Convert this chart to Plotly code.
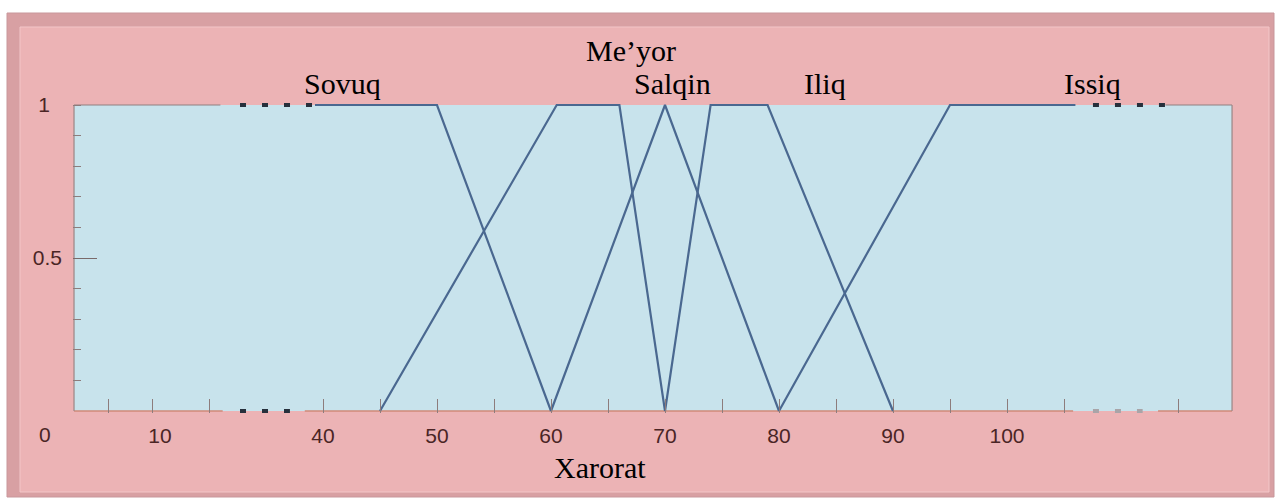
import plotly.graph_objects as go

# Membership functions of the linguistic variable "Xarorat"
sovuq_x = [39.3, 50, 60]
sovuq_y = [1, 1, 0]
meyor_x = [45, 60.5, 66, 70]
meyor_y = [0, 1, 1, 0]
salqin_x = [60, 70, 80]
salqin_y = [0, 1, 0]
iliq_x = [70, 74, 79, 90]
iliq_y = [0, 1, 1, 0]
issiq_x = [80, 95, 106]
issiq_y = [0, 1, 1]

# Term labels (centre on the x scale, row 1 = one line higher)
term_names = ["Sovuq", "Me’yor", "Salqin", "Iliq", "Issiq"]
term_label_x = [41.7, 67.0, 70.7, 84.0, 107.5]
term_label_row = [0, 1, 0, 0, 0]

# Axis ticks and labels
x_tick_vals = [21.2, 25, 30, 40, 45, 50, 55, 60, 65, 70, 75, 80, 85, 90, 95, 100, 105, 115]
x_label_vals = [25.7, 40, 50, 60, 70, 80, 90, 100]
x_label_text = ["10", "40", "50", "60", "70", "80", "90", "100"]
y_minor_vals = [0.1, 0.2, 0.3, 0.4, 0.6, 0.7, 0.8, 0.9]

# Broken-axis stretches shown as dots
break_left = (32.72, 39.2)
break_left_low = (32.72, 37.1)
break_right = (107.54, 113.9)
break_right_low = (107.54, 111.9)

# Axis frame extent in data units
X_LO, X_HI = 18.16, 119.74

# ---- page geometry ----
W, H = 1276, 501
L, R, T, B = 73, 43, 103, 88
PXU = 11.4                      # px per x unit
x_lo = 40 - (323 - L) / PXU
x_hi = x_lo + (W - L - R) / PXU
y_pad = 2 / 306
pw, ph = W - L - R, H - T - B


def px(xp):
    return (xp - L) / pw


def py(yp):
    return (H - B - yp) / ph


PINK = "#ecb3b5"
PINK_DARK = "#d8a0a3"
BLUE = "#c8e3ec"
LINE = "#4a6890"
TICK = "#8d7c7c"
LABEL = "#4a2525"
SERIF = "Liberation Serif, Times New Roman, serif"
SANS = "Liberation Sans, Arial, sans-serif"
TICK_FONT = dict(family=SANS, size=21, color=LABEL)

fig = go.Figure()

series = [(sovuq_x, sovuq_y), (meyor_x, meyor_y), (salqin_x, salqin_y),
          (iliq_x, iliq_y), (issiq_x, issiq_y)]
for (xs, ys), name in zip(series, term_names):
    fig.add_trace(go.Scatter(x=xs, y=ys, mode="lines", name=name,
                             line=dict(color=LINE, width=2.2), showlegend=False))

# dotted axis breaks
for (a, b), yv, col in [(break_left, 1, "#26303c"), (break_left_low, 0, "#26303c"),
                        (break_right, 1, "#26303c"), (break_right_low, 0, "#a9a4a8")]:
    fig.add_trace(go.Scatter(x=[a, b], y=[yv, yv], mode="lines", showlegend=False,
                             line=dict(color=col, width=4, dash="6px,16px")))

# helper traces so the overlay axes are drawn
fig.add_trace(go.Scatter(x=[None], y=[None], xaxis="x2", yaxis="y", showlegend=False))
fig.add_trace(go.Scatter(x=[None], y=[None], xaxis="x", yaxis="y2", showlegend=False))

shapes = [
    # outer frame band and inner panel
    dict(type="rect", xref="paper", yref="paper", x0=px(7), x1=px(1274), y0=py(497), y1=py(13),
         fillcolor=PINK_DARK, line=dict(color="#c8979b", width=1), layer="below"),
    dict(type="rect", xref="paper", yref="paper", x0=px(20), x1=px(1269), y0=py(492), y1=py(27),
         fillcolor=PINK, line=dict(color="#f3c6c8", width=1), layer="below"),
    # plotting area
    dict(type="rect", xref="x", yref="y", x0=X_LO, x1=X_HI, y0=0, y1=1,
         fillcolor=BLUE, line=dict(width=0), layer="below"),
]
frame_bottom = [(X_LO, 31.2), (38.4, 105.8), (113.25, X_HI)]
frame_top = [(X_LO, 31.0), (113.9, X_HI)]
for a, b in frame_bottom:
    shapes.append(dict(type="line", xref="x", yref="y", x0=a, x1=b, y0=0, y1=0,
                       line=dict(color="#d08a78", width=1.6), layer="below"))
for a, b in frame_top:
    shapes.append(dict(type="line", xref="x", yref="y", x0=a, x1=b, y0=1, y1=1,
                       line=dict(color="#8f8080", width=1.2), layer="below"))
for xv in (X_LO, X_HI):
    shapes.append(dict(type="line", xref="x", yref="y", x0=xv, x1=xv, y0=0, y1=1,
                       line=dict(color="#9a8585", width=1.2), layer="below"))

annotations = []
for name, xv, row in zip(term_names, term_label_x, term_label_row):
    annotations.append(dict(text=name, x=xv, xref="x", y=py(83 - 33 * row), yref="paper",
                            showarrow=False, xanchor="center", yanchor="middle",
                            font=dict(family=SERIF, size=30, color="black")))
annotations.append(dict(text="Xarorat", x=40 + (600 - 323) / PXU, xref="x", y=py(467),
                        yref="paper", showarrow=False, xanchor="center", yanchor="middle",
                        font=dict(family=SERIF, size=30, color="black")))
annotations.append(dict(text="0", x=px(45), xref="paper", y=py(434), yref="paper",
                        showarrow=False, xanchor="center", yanchor="middle", font=TICK_FONT))

fig.update_layout(
    width=W, height=H,
    margin=dict(l=L, r=R, t=T, b=B, pad=0),
    paper_bgcolor="white", plot_bgcolor=PINK,
    shapes=shapes, annotations=annotations,
    xaxis=dict(range=[x_lo, x_hi], showgrid=False, zeroline=False, showline=False,
               tickmode="array", tickvals=x_tick_vals, showticklabels=False,
               ticks="inside", ticklen=14, tickwidth=1.2, tickcolor=TICK),
    xaxis2=dict(range=[x_lo, x_hi], overlaying="x", anchor="y", side="bottom",
                showgrid=False, zeroline=False, showline=False,
                tickmode="array", tickvals=x_label_vals, ticktext=x_label_text,
                ticks="", ticklabelstandoff=8, tickfont=TICK_FONT),
    yaxis=dict(range=[-y_pad, 1 + y_pad], showgrid=False, zeroline=False, showline=False,
               tickmode="array", tickvals=y_minor_vals + [1], ticktext=[""] * len(y_minor_vals) + ["1"],
               ticks="inside", ticklen=8, tickwidth=1.2, tickcolor=TICK,
               ticklabelstandoff=22, tickfont=TICK_FONT),
    yaxis2=dict(range=[-y_pad, 1 + y_pad], overlaying="y", anchor="x", side="left",
                showgrid=False, zeroline=False, showline=False,
                tickmode="array", tickvals=[0.5], ticktext=["0.5"],
                ticks="inside", ticklen=24, tickwidth=1.2, tickcolor="#7a6a6a",
                ticklabelstandoff=10, tickfont=TICK_FONT),
)

fig.write_html("out.html")
